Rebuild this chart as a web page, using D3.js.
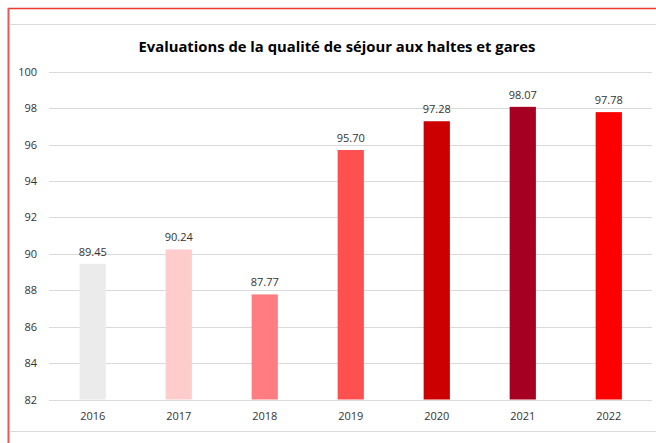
<!DOCTYPE html>
<html>
<head>
<meta charset="utf-8">
<script src="https://cdn.jsdelivr.net/npm/d3@7"></script>
<style>
  body { margin: 0; background: #fff; }
  text { font-family: "Open Sans", "Noto Sans", sans-serif; }
</style>
</head>
<body>
<svg id="chart"></svg>
<script>
var years = ['2016','2017','2018','2019','2020','2021','2022'];
var scores = [89.45, 90.24, 87.77, 95.70, 97.28, 98.07, 97.78];
var barColors = ['#ebebeb','#ffcccc','#ff7c80','#ff5050','#cc0000','#a50021','#ff0000'];
var yTicks = [82, 84, 86, 88, 90, 92, 94, 96, 98, 100];
var title = 'Evaluations de la qualité de séjour aux haltes et gares';

var W = 656, H = 443;
var svg = d3.select("#chart").attr("width", W).attr("height", H);

// frame lines
svg.append("line").attr("x1", 8).attr("x2", W).attr("y1", 8.5).attr("y2", 8.5)
   .attr("stroke", "#ee3b2e").attr("stroke-width", 1.5);
svg.append("line").attr("x1", 8.5).attr("x2", 8.5).attr("y1", 8).attr("y2", H)
   .attr("stroke", "#e8584f").attr("stroke-width", 2);
svg.append("line").attr("x1", 10).attr("x2", W).attr("y1", 24.5).attr("y2", 24.5)
   .attr("stroke", "#d9d9d9");
svg.append("line").attr("x1", 10).attr("x2", W).attr("y1", 431.5).attr("y2", 431.5)
   .attr("stroke", "#d9d9d9");

var x = d3.scaleBand()
    .domain(years)
    .range([49.5, 652])
    .paddingInner(0.695)
    .paddingOuter(0.35);

var y = d3.scaleLinear()
    .domain([82, 100])
    .range([399.5, 71.7]);

// gridlines
svg.append("g")
   .selectAll("line")
   .data(yTicks)
   .join("line")
     .attr("x1", 49).attr("x2", 652)
     .attr("y1", function(d) { return Math.round(y(d)) + 0.5; })
     .attr("y2", function(d) { return Math.round(y(d)) + 0.5; })
     .attr("stroke", "#d9d9d9");

// y axis labels
var yAxis = svg.append("g")
   .attr("transform", "translate(37,0)")
   .call(d3.axisLeft(y).tickValues(yTicks).tickSize(0).tickPadding(0));
yAxis.select(".domain").remove();
yAxis.selectAll("text")
   .style("font-size", "11px")
   .attr("fill", "#333");

// bars
svg.selectAll("rect.bar")
   .data(scores)
   .join("rect")
     .attr("class", "bar")
     .attr("x", function(d, i) { return x(years[i]); })
     .attr("width", x.bandwidth())
     .attr("y", function(d) { return y(d); })
     .attr("height", function(d) { return y(82) - y(d); })
     .attr("fill", function(d, i) { return barColors[i]; });

// value labels
svg.selectAll("text.val")
   .data(scores)
   .join("text")
     .attr("class", "val")
     .attr("x", function(d, i) { return x(years[i]) + x.bandwidth() / 2; })
     .attr("y", function(d) { return y(d) - 8; })
     .attr("text-anchor", "middle")
     .style("font-size", "11px")
     .attr("fill", "#333")
     .text(function(d) { return d.toFixed(2); });

// x axis
var xAxis = svg.append("g")
   .attr("transform", "translate(0," + y(82) + ")")
   .call(d3.axisBottom(x).tickSize(0).tickPadding(13));
xAxis.select(".domain").remove();
xAxis.selectAll("text")
   .style("font-size", "11px")
   .attr("fill", "#333");

svg.append("text")
   .attr("x", 337)
   .attr("y", 52)
   .attr("text-anchor", "middle")
   .style("font-size", "14.8px")
   .style("font-weight", 700)
   .attr("fill", "#000")
   .text(title);
</script>
</body>
</html>
